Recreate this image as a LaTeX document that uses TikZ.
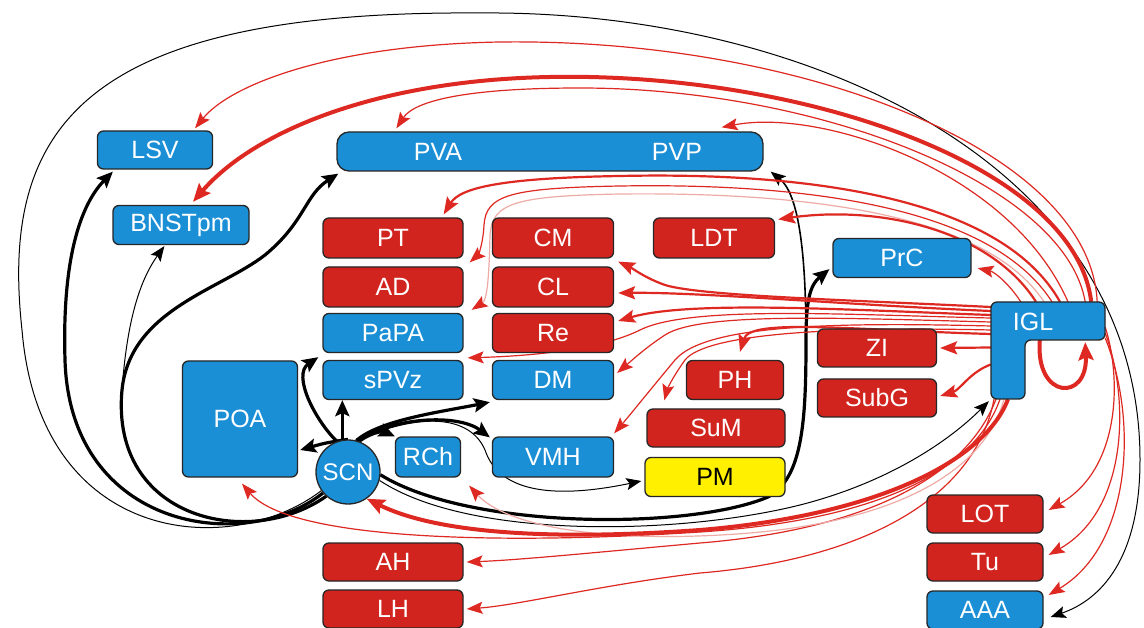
\documentclass[tikz,border=0pt]{standalone}
\usepackage{fontspec}
\setmainfont{Liberation Sans}
\usetikzlibrary{arrows.meta,calc}
\definecolor{nblue}{RGB}{27,143,214}
\definecolor{nred}{RGB}{210,36,30}
\definecolor{lred}{RGB}{222,40,34}
\definecolor{pinkl}{RGB}{238,170,165}
\definecolor{nyel}{RGB}{255,240,0}
\pgfdeclarelayer{bg}
\pgfdeclarelayer{edges}
\pgfsetlayers{bg,edges,main}
\begin{document}
\begin{tikzpicture}[x=1pt,y=-1pt,
 box/.style={rounded corners=6pt, draw=black!85, line width=1.3pt, text=white,
   font=\fontsize{25}{28}\selectfont, minimum height=38pt, inner sep=0pt},
 bb/.style={box, fill=nblue},
 rb/.style={box, fill=nred},
 lbl/.style={text=white, font=\fontsize{25}{28}\selectfont, inner sep=0pt},
 blk/.style={draw=black, line width=1pt, -{Stealth[length=15pt,width=12pt,inset=3pt]}},
 blkM/.style={draw=black, line width=1.6pt, -{Stealth[length=15pt,width=12pt,inset=3pt]}},
 blkT/.style={draw=black, line width=3.2pt, -{Stealth[length=16pt,width=14pt,inset=3pt]}},
 rt/.style={draw=lred, line width=1.2pt, -{Stealth[length=16pt,width=12pt,inset=3pt]}},
 rm/.style={draw=lred, line width=2.2pt, -{Stealth[length=17pt,width=13pt,inset=3pt]}},
 rT/.style={draw=lred, line width=4pt, -{Stealth[length=18pt,width=15pt,inset=3pt]}},
 pk/.style={draw=pinkl, line width=1.2pt, -{Stealth[length=16pt,width=12pt,inset=3pt,fill=lred,color=lred]}},
]
\useasboundingbox (0,0) rectangle (1144,628);
\begin{pgfonlayer}{bg}
\fill[white] (0,0) rectangle (1144,628);
\end{pgfonlayer}

% ---------- nodes ----------
\node[bb, minimum width=115pt] (LSV) at (155,150) {LSV};
\node[bb, minimum width=426pt, minimum height=39pt, rounded corners=12pt] (PV) at (550,151.5) {};
\node[lbl] (PVAt) at (438,151.5) {PVA};
\node[lbl] (PVPt) at (677,151.5) {PVP};
\node[bb, minimum width=136pt, minimum height=39pt] (BNSTpm) at (181,225) {BNSTpm};
\node[rb, minimum width=140pt, minimum height=40pt] (PT) at (393,238) {PT};
\node[rb, minimum width=140pt, minimum height=40pt] (AD) at (393,287) {AD};
\node[bb, minimum width=140pt, minimum height=39pt] (PaPA) at (393,333) {PaPA};
\node[bb, minimum width=140pt, minimum height=39pt] (sPVz) at (393,380) {sPVz};
\node[rb, minimum width=121pt, minimum height=40pt] (CM) at (553,238) {CM};
\node[rb, minimum width=121pt, minimum height=40pt] (CL) at (553,287) {CL};
\node[rb, minimum width=121pt, minimum height=39pt] (Re) at (553,333) {Re};
\node[bb, minimum width=121pt, minimum height=39pt] (DM) at (553,380) {DM};
\node[bb, minimum width=121pt, minimum height=40pt] (VMH) at (553,457) {VMH};
\node[bb, minimum width=65pt, minimum height=40pt] (RCh) at (428,457) {RCh};
\node[bb, minimum width=115pt, minimum height=116pt] (POA) at (240,419) {POA};
\node[circle, draw=black!85, line width=1.3pt, fill=nblue, text=white,
  font=\fontsize{24}{26}\selectfont, inner sep=0pt, minimum size=64pt] (SCN) at (348,472) {SCN};
\node[rb, minimum width=121pt, minimum height=40pt] (LDT) at (714,238) {LDT};
\node[bb, minimum width=138pt, minimum height=39pt] (PrC) at (902,258) {PrC};
\node[rb, minimum width=119pt] (ZI) at (877,348) {ZI};
\node[rb, minimum width=119pt] (SubG) at (877,398) {SubG};
\node[rb, minimum width=97pt, minimum height=39pt] (PH) at (735,380) {PH};
\node[rb, minimum width=138pt] (SuM) at (716,428) {SuM};
\node[box, fill=nyel, text=black, minimum width=140pt, minimum height=39pt] (PM) at (715,477) {PM};
\node[rb, minimum width=140pt] (AH) at (393,562) {AH};
\node[rb, minimum width=140pt] (LH) at (393,609) {LH};
\node[rb, minimum width=116pt] (LOT) at (985,514) {LOT};
\node[rb, minimum width=116pt] (Tu) at (985,562) {Tu};
\node[bb, minimum width=116pt] (AAA) at (985,610) {AAA};
% IGL L-shape
\filldraw[fill=nblue, draw=black!85, line width=1.3pt, rounded corners=6pt]
  (991,302) -- (1105,302) -- (1105,340) -- (1025,340) -- (1025,399) -- (991,399) -- cycle;
\node[inner sep=0pt, minimum width=114pt, minimum height=38pt] (IGL) at (1048,321) {};
\node[inner sep=0pt, minimum width=34pt, minimum height=59pt] (IGLs) at (1008,369.5) {};
\node[lbl] (IGLt) at (1033,322) {IGL};

% ---------- connectors ----------
\begin{pgfonlayer}{edges}
% black, from SCN
\path[blk] (SCN.215) .. controls (230,560) and (40,545) .. (22,330)
  .. controls (0,130) and (80,10) .. (480,13)
  .. controls (800,10) and (1140,160) .. (1140,460)
  .. controls (1140,560) and (1100,600) .. ($(AAA.east)+(7,7)$);
\path[blkT] (SCN.220) .. controls (245,555) and (70,530) .. (65,360)
  .. controls (62,260) and (80,205) .. ($(LSV.south west)+(16,2)$);
\path[blkT] (SCN.228) .. controls (250,550) and (110,520) .. (122,390)
  .. controls (130,310) and (220,290) .. (265,255)
  .. controls (305,222) and (305,195) .. ($(PV.south west)+(2,2)$);
\path[blk] (SCN.228) .. controls (250,550) and (110,520) .. (122,390)
  .. controls (127,320) and (140,280) .. ($(BNSTpm.south west)+(52,1)$);
\path[blkT] (SCN.north) .. controls (325,443) .. ($(POA.east)+(2,31)$);
\path[blkT] (SCN.100) -- (SCN.100 |- sPVz.south);
\path[blkT] (SCN.110) .. controls (315,420) and (292,375) .. ($(PaPA.south west)+(-4,4)$);
\path[blkT] (SCN.70) .. controls (375,430) and (385,432) .. (RCh.north west);
\path[blkT] (SCN.75) .. controls (380,420) and (440,412) .. ($(DM.south west)+(-2,2)$);
\path[blkT] (SCN.75) .. controls (400,415) and (460,415) .. ($(VMH.north west)+(-2,1)$);
\path[blk] (SCN.75) .. controls (420,412) and (470,415) .. (485,450)
  .. controls (500,495) and (560,498) .. ($(PM.west)+(-3,4)$);
\path[blkM] (SCN.-5) .. controls (470,530) and (690,530) .. (768,497)
  .. controls (803,478) and (806,420) .. (806,340)
  .. controls (806,260) and (800,195) .. ($(PV.south east)+(7,0)$);
\path[blkT] (SCN.-5) .. controls (470,530) and (690,530) .. (768,497)
  .. controls (803,478) and (806,420) .. (806,340)
  .. controls (806,300) and (810,285) .. ($(PrC.south west)+(-3,-9)$);
\path[blk] (SCN.-15) .. controls (470,540) and (680,535) .. (800,505)
  .. controls (890,482) and (950,440) .. ($(IGLs.south west)+(-2,2)$);

% red, from IGL: long arcs over the top
\path[rt] ($(IGL.north east)+(-8,0)$) .. controls (1090,150) and (800,38) .. (500,42)
  .. controls (330,45) and (230,85) .. ($(LSV.north)+(40,-2)$);
\path[rT] ($(IGL.north east)+(-14,0)$) .. controls (1075,165) and (800,72) .. (550,77)
  .. controls (380,80) and (255,130) .. ($(BNSTpm.north)+(12,-3)$);
\path[rt] ($(IGL.north east)+(-20,0)$) .. controls (1065,185) and (820,88) .. (580,88)
  .. controls (470,88) and (415,100) .. ($(PV.north west)+(60,-3)$);
\path[rt] ($(IGL.north)+(20,0)$) .. controls (1010,170) and (820,108) .. ($(PV.north east)+(-42,-4)$);
\path[rm] ($(IGL.north)+(12,0)$) .. controls (1000,195) and (800,172) .. (620,176)
  .. controls (500,178) and (460,188) .. ($(PT.north east)+(-20,-3)$);
\path[rt] ($(IGL.north)+(4,0)$) .. controls (990,205) and (800,183) .. (620,186)
  .. controls (510,188) and (486,195) .. (484,225)
  .. controls (483,245) and (478,255) .. ($(AD.north east)+(6,-4)$);
\path[pk] ($(IGL.north)+(-4,0)$) .. controls (985,212) and (800,192) .. (620,194)
  .. controls (515,196) and (492,203) .. (490,235)
  .. controls (489,280) and (487,300) .. ($(PaPA.north east)+(8,-3)$);
\path[rm] ($(IGL.north)+(-12,0)$) .. controls (990,230) and (880,205) .. ($(LDT.north east)+(3,2)$);
\path[rt] ($(IGL.north west)+(30,0)$) .. controls (1010,285) and (995,272) .. ($(PrC.south east)+(6,-10)$);

% red bundle leaving IGL to the left
\path[rm] ($(IGL.west)+(0,-14)$) .. controls (850,300) and (700,296) .. (665,285)
  .. controls (645,278) and (632,268) .. ($(CM.south east)+(4,3)$);
\path[rm] ($(IGL.west)+(0,-10)$) .. controls (850,305) and (700,292) .. ($(CL.east)+(4,6)$);
\path[rm] ($(IGL.west)+(0,-6)$) .. controls (850,310) and (690,300) .. ($(Re.east)+(4,-12)$);
\path[rt] ($(IGL.west)+(0,-3)$) .. controls (850,315) and (690,305) .. (640,330)
  .. controls (600,350) and (530,356) .. ($(sPVz.north east)+(4,-2)$);
\path[rt] ($(IGL.west)+(0,1)$) .. controls (840,318) and (700,312) .. (665,335)
  .. controls (645,348) and (630,362) .. ($(DM.east)+(3,-7)$);
\path[rt] ($(IGL.west)+(0,5)$) .. controls (830,322) and (705,325) .. (675,360)
  .. controls (650,390) and (630,415) .. ($(VMH.north east)+(0,-3)$);
\path[rt] ($(IGL.west)+(0,9)$) .. controls (820,326) and (705,335) .. (685,360)
  .. controls (672,378) and (667,390) .. ($(SuM.north west)+(18,-8)$);
\path[rm] ($(IGL.west)+(0,13)$) .. controls (850,330) and (750,318) .. ($(PH.north)+(5,-8)$);
\path[rm] ($(IGLs.west)+(0,-22)$) -- ($(ZI.east)+(3,0)$);
\path[rm] ($(IGLs.west)+(0,-5)$) .. controls (970,372) and (960,390) .. ($(SubG.east)+(3,-2)$);

% self loop
\path[rT] ($(IGL.south west)+(49,0)$) .. controls (1035,400) and (1088,402) .. ($(IGL.south east)+(-20,2)$);

% red, from IGL down-left
\path[rt] ($(IGLs.south)+(-8,0)$) .. controls (975,470) and (880,520) .. (700,532)
  .. controls (500,545) and (290,540) .. ($(POA.south)+(2,6)$);
\path[rt] ($(IGLs.south)+(-12,0)$) .. controls (965,480) and (860,530) .. (700,543)
  .. controls (600,552) and (520,560) .. ($(AH.east)+(3,0)$);
\path[rt] ($(IGLs.south)+(-14,0)$) .. controls (975,500) and (860,560) .. (700,573)
  .. controls (600,585) and (520,605) .. ($(LH.east)+(3,0)$);
\path[pk] ($(IGLs.south)+(-4,0)$) .. controls (985,470) and (900,520) .. (750,533)
  .. controls (600,545) and (505,525) .. ($(RCh.south east)+(8,8)$);
\path[rT] (IGLs.south) .. controls (985,460) and (880,515) .. (700,530)
  .. controls (560,540) and (440,535) .. (SCN.-55);

% red, from IGL down the right side
\path[rt] ($(IGL.east)+(0,6)$) .. controls (1122,380) and (1120,470) .. ($(LOT.east)+(5,-4)$);
\path[rt] ($(IGL.east)+(0,12)$) .. controls (1130,400) and (1128,510) .. ($(Tu.east)+(5,-7)$);
\path[rt] ($(IGL.east)+(0,17)$) .. controls (1138,420) and (1132,545) .. ($(AAA.east)+(5,-15)$);
\end{pgfonlayer}
\end{tikzpicture}
\end{document}
